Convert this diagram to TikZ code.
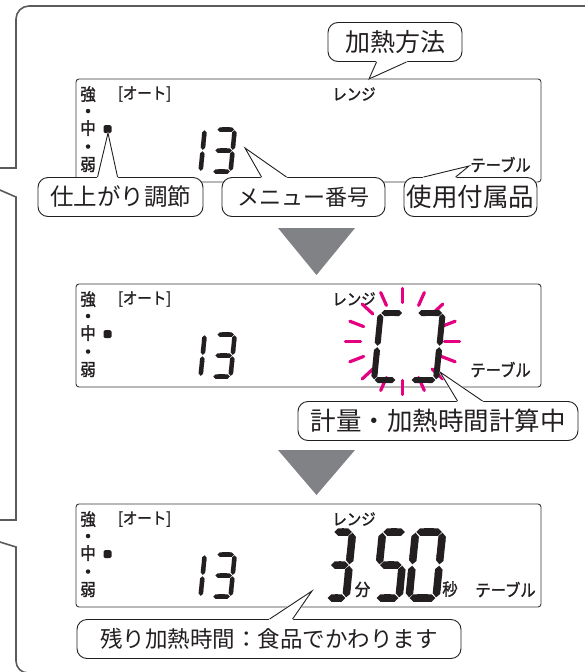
\documentclass[tikz,border=0pt]{standalone}
\usepackage{fontspec}
\setmainfont{Noto Sans CJK JP}
\newfontfamily\lcdfont[FakeStretch=0.9, FakeBold=1.6]{Noto Sans CJK JP}
\usetikzlibrary{positioning, calc, arrows.meta}
\definecolor{framegray}{HTML}{5B5B5B}
\definecolor{stepgray}{HTML}{808285}
\definecolor{flashpink}{HTML}{E4007F}
\definecolor{ink}{HTML}{231F20}

% 7-segment digit: x, y (bottom left), width, height, thickness, segments
\newcommand{\lcddigit}[6]{%
  \begin{scope}[shift={(#1,#2)}]
    \coordinate (BL) at (0,0);
    \coordinate (BR) at (#3,0);
    \coordinate (ML) at ({0.05*#4},{-0.5*#4});
    \coordinate (MR) at ({#3+0.05*#4},{-0.5*#4});
    \coordinate (TL) at ({0.1*#4},{-#4});
    \coordinate (TR) at ({#3+0.1*#4},{-#4});
    \foreach \p/\q in #6 {\draw[lcdseg, line width=#5pt] (\p) -- (\q);}
  \end{scope}}
\newcommand{\segone}{TR/MR,MR/BR}
\newcommand{\segthree}{TL/TR,TR/MR,MR/BR,BR/BL,ML/MR}
\newcommand{\segfive}{TR/TL,TL/ML,ML/MR,MR/BR,BR/BL}
\newcommand{\segzero}{TL/TR,TR/MR,MR/BR,BR/BL,BL/ML,ML/TL}
\newcommand{\segopen}{TR/TL,TL/ML,ML/BL,BL/BR}
\newcommand{\segclose}{TL/TR,TR/MR,MR/BR,BR/BL}

% callout tail: base, tip, base
\newcommand{\calltail}[3]{%
  \filldraw[white, line width=1.6pt, line join=round] (#1) -- (#2) -- (#3) -- cycle;
  \draw[tail] (#1) -- (#2) -- (#3);}

\begin{document}
\begin{tikzpicture}[
    x=1pt, y=-1pt,
    frame/.style={draw=framegray, line width=1.6pt},
    panel/.style={rectangle, draw=ink!90, line width=0.9pt, rounded corners=3pt, minimum width=465pt, minimum height=103pt, inner sep=0pt},
    lcdtext/.style={inner sep=0pt, text=ink, font=\lcdfont\fontsize{16}{16}\selectfont},
    lcdbig/.style={lcdtext, font=\lcdfont\fontsize{17}{17}\selectfont},
    lcddot/.style={circle, fill=ink, inner sep=0pt, minimum size=4.5pt},
    lcdblock/.style={rectangle, fill=ink, rounded corners=1.5pt, inner sep=0pt, minimum size=8pt},
    lcdseg/.style={draw=ink, {Triangle Cap[]}-{Triangle Cap[]}, shorten <=0.7pt, shorten >=0.7pt},
    flash/.style={draw=flashpink, line width=3.2pt, line cap=round},
    callout/.style={rectangle, draw=ink, fill=white, line width=0.9pt, rounded corners=10pt, minimum height=39pt, inner sep=0pt, text=ink, font=\fontsize{24}{24}\selectfont},
    tail/.style={draw=ink, line width=0.9pt},
    stepmark/.style={fill=stepgray},
]
\useasboundingbox (0,0) rectangle (585,672);

% Outer frame
\draw[frame, rounded corners=13pt] (600,6) -- (16,6) -- (16,100);
\draw[frame] (16,100) -- (16,168) -- (-2,168);
\draw[frame] (-2,189.2) -- (16,197) -- (16,520) -- (-2,520);
\draw[frame] (-2,541.4) -- (16,547) -- (16,600);
\draw[frame, rounded corners=12pt] (16,600) -- (16,673) -- (600,673);

% LCD panels
\foreach \n/\ytop/\tx in {1/79/425, 2/284/425, 3/504/430} {
  \node[panel] (lcd\n) at (308.5,\ytop+51.5) {};
  \begin{scope}[shift={(lcd\n.north west)}]
    \node[lcdbig] (strong\n) at (12.5,15.5) {強};
    \node[lcddot] (dotA\n) at (12.5,32.5) {};
    \node[lcdbig] (middle\n) at (12.5,49.5) {中};
    \node[lcddot] (dotB\n) at (12.5,68) {};
    \node[lcdbig] (weak\n) at (12.5,86) {弱};
    \node[lcdblock] (level\n) at (32,50.5) {};
    \node[lcdtext] (auto\n) at (69,15.5) {[オート]};
    \node[lcdtext] (range\n) at (278.5,15.5) {レンジ};
    \node[lcdbig] (table\n) at (\tx,86) {テーブル};
    \lcddigit{107}{93}{18}{42}{4.5}{\segone}
    \lcddigit{137}{93}{18}{42}{4.5}{\segthree}
  \end{scope}
}

% Panel 2: weighing
\coordinate (flashc) at (402.5,341.5);
\foreach \a in {0,22.5,...,337.5}
  \draw[flash] ($(flashc)+(\a:42pt and 39pt)$) -- ($(flashc)+(\a:57pt and 53pt)$);
\lcddigit{374}{380}{22}{67}{6}{\segopen}
\lcddigit{411}{380}{25}{67}{6}{\segclose}

% Panel 3: remaining time
\lcddigit{327}{598}{19}{66}{7.5}{\segthree}
\lcddigit{376}{598}{23}{66}{7.5}{\segfive}
\lcddigit{409}{598}{27}{66}{7.5}{\segzero}
\node[lcdbig] (minute) at (362.5,589.5) {分};
\node[lcdbig] (second) at (450,589) {秒};

% Step arrows
\fill[stepmark] (278,228) -- (355,228) -- (316.5,275) -- cycle;
\fill[stepmark] (278,450) -- (355,450) -- (316.5,495) -- cycle;

% Callouts
\node[callout, minimum width=134pt, font=\fontsize{25}{25}\selectfont] (method) at (395,42) {加熱方法};
\node[callout, minimum width=165pt, font=\fontsize{23.5}{23.5}\selectfont] (finish) at (120.5,197) {仕上がり調節};
\node[callout, minimum width=163pt, font=\fontsize{22}{22}\selectfont] (menuno) at (303.5,197) {メニュー番号};
\node[callout, minimum width=133pt, font=\fontsize{25.5}{25.5}\selectfont] (accessory) at (470.5,197) {使用付属品};
\node[callout, minimum width=280pt, font=\fontsize{25.5}{25.5}\selectfont] (calc) at (438,421) {計量・加熱時間計算中};
\node[callout, minimum width=384pt, font=\fontsize{22.5}{22.5}\selectfont] (remain) at (269,639) {残り加熱時間：食品でかわります};

% Tails
\coordinate (methodA) at ($(method.south west)+(49,0)$);
\coordinate (methodB) at ($(method.south west)+(79,0)$);
\coordinate (methodtip) at (369,79);
\calltail{methodA}{methodtip}{methodB}

\coordinate (finishA) at ($(finish.north west)+(60,0)$);
\coordinate (finishB) at ($(finish.north west)+(80,0)$);
\coordinate (finishtip) at (108,133);
\calltail{finishA}{finishtip}{finishB}

\coordinate (menunoA) at ($(menuno.north west)+(40,0)$);
\coordinate (menunoB) at ($(menuno.north west)+(65,0)$);
\coordinate (menunotip) at (245,148);
\calltail{menunoA}{menunotip}{menunoB}

\coordinate (accessoryA) at ($(accessory.north west)+(20,0)$);
\coordinate (accessoryB) at ($(accessory.north west)+(52,0)$);
\coordinate (accessorytip) at (469,166);
\calltail{accessoryA}{accessorytip}{accessoryB}

\coordinate (calcA) at ($(calc.north west)+(160,0)$);
\coordinate (calcB) at ($(calc.north west)+(185,0)$);
\coordinate (calctip) at (440,372);
\calltail{calcA}{calctip}{calcB}

\coordinate (remainA) at ($(remain.north west)+(193,0)$);
\coordinate (remainB) at ($(remain.north west)+(216,0)$);
\coordinate (remaintip) at (312,591);
\calltail{remainA}{remaintip}{remainB}

\end{tikzpicture}
\end{document}
